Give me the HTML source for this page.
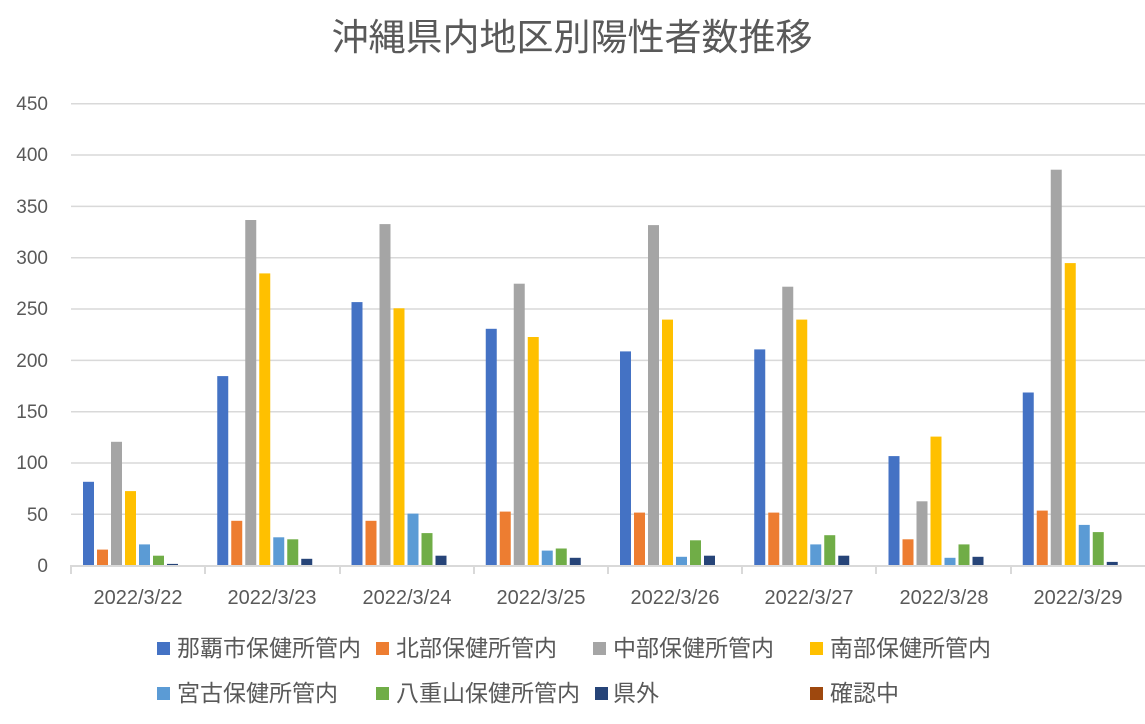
<!DOCTYPE html>
<html><head><meta charset="utf-8"><style>
html,body{margin:0;padding:0;background:#fff;}
svg{display:block;font-family:"Liberation Sans","Noto Sans CJK JP",sans-serif;}
</style></head><body>
<svg width="1145" height="724" viewBox="0 0 1145 724" xmlns="http://www.w3.org/2000/svg">
<text x="572" y="50" font-size="37" fill="#595959" text-anchor="middle" font-family="Noto Sans CJK JP, sans-serif">沖縄県内地区別陽性者数推移</text>
<g stroke="#d9d9d9" stroke-width="1.5">
<line x1="71" x2="1145" y1="514.3" y2="514.3"/>
<line x1="71" x2="1145" y1="463" y2="463"/>
<line x1="71" x2="1145" y1="411.7" y2="411.7"/>
<line x1="71" x2="1145" y1="360.4" y2="360.4"/>
<line x1="71" x2="1145" y1="309" y2="309"/>
<line x1="71" x2="1145" y1="257.7" y2="257.7"/>
<line x1="71" x2="1145" y1="206.4" y2="206.4"/>
<line x1="71" x2="1145" y1="155" y2="155"/>
<line x1="71" x2="1145" y1="103.7" y2="103.7"/>
</g>
<g font-size="19" fill="#595959" text-anchor="end">
<text x="48" y="572">0</text><text x="48" y="521">50</text><text x="48" y="469">100</text>
<text x="48" y="418">150</text><text x="48" y="367">200</text><text x="48" y="315">250</text>
<text x="48" y="264">300</text><text x="48" y="213">350</text><text x="48" y="161">400</text>
<text x="48" y="110">450</text>
</g>
<g>
<rect x="83" y="481.8" width="11" height="84.2" fill="#4472c4"/>
<rect x="97" y="549.6" width="11" height="16.4" fill="#ed7d31"/>
<rect x="111" y="441.8" width="11" height="124.2" fill="#a5a5a5"/>
<rect x="125" y="491.1" width="11" height="74.9" fill="#ffc000"/>
<rect x="139" y="544.4" width="11" height="21.6" fill="#5b9bd5"/>
<rect x="153" y="555.7" width="11" height="10.3" fill="#70ad47"/>
<rect x="167" y="563.9" width="11" height="2.1" fill="#264478"/>

<rect x="217.25" y="376.1" width="11" height="189.9" fill="#4472c4"/>
<rect x="231.25" y="520.8" width="11" height="45.2" fill="#ed7d31"/>
<rect x="245.25" y="220" width="11" height="346" fill="#a5a5a5"/>
<rect x="259.25" y="273.4" width="11" height="292.6" fill="#ffc000"/>
<rect x="273.25" y="537.3" width="11" height="28.7" fill="#5b9bd5"/>
<rect x="287.25" y="539.3" width="11" height="26.7" fill="#70ad47"/>
<rect x="301.25" y="558.8" width="11" height="7.2" fill="#264478"/>

<rect x="351.5" y="302.1" width="11" height="263.9" fill="#4472c4"/>
<rect x="365.5" y="520.8" width="11" height="45.2" fill="#ed7d31"/>
<rect x="379.5" y="224.1" width="11" height="341.9" fill="#a5a5a5"/>
<rect x="393.5" y="308.3" width="11" height="257.7" fill="#ffc000"/>
<rect x="407.5" y="513.6" width="11" height="52.4" fill="#5b9bd5"/>
<rect x="421.5" y="533.1" width="11" height="32.9" fill="#70ad47"/>
<rect x="435.5" y="555.7" width="11" height="10.3" fill="#264478"/>

<rect x="485.75" y="328.8" width="11" height="237.2" fill="#4472c4"/>
<rect x="499.75" y="511.6" width="11" height="54.4" fill="#ed7d31"/>
<rect x="513.75" y="283.7" width="11" height="282.3" fill="#a5a5a5"/>
<rect x="527.75" y="337" width="11" height="229" fill="#ffc000"/>
<rect x="541.75" y="550.6" width="11" height="15.4" fill="#5b9bd5"/>
<rect x="555.75" y="548.5" width="11" height="17.5" fill="#70ad47"/>
<rect x="569.75" y="557.8" width="11" height="8.2" fill="#264478"/>

<rect x="620" y="351.4" width="11" height="214.6" fill="#4472c4"/>
<rect x="634" y="512.6" width="11" height="53.4" fill="#ed7d31"/>
<rect x="648" y="225.1" width="11" height="340.9" fill="#a5a5a5"/>
<rect x="662" y="319.6" width="11" height="246.4" fill="#ffc000"/>
<rect x="676" y="556.8" width="11" height="9.2" fill="#5b9bd5"/>
<rect x="690" y="540.3" width="11" height="25.7" fill="#70ad47"/>
<rect x="704" y="555.7" width="11" height="10.3" fill="#264478"/>
<rect x="718" y="565" width="11" height="1.2" fill="#9e480e"/>

<rect x="754.25" y="349.4" width="11" height="216.6" fill="#4472c4"/>
<rect x="768.25" y="512.6" width="11" height="53.4" fill="#ed7d31"/>
<rect x="782.25" y="286.7" width="11" height="279.3" fill="#a5a5a5"/>
<rect x="796.25" y="319.6" width="11" height="246.4" fill="#ffc000"/>
<rect x="810.25" y="544.4" width="11" height="21.6" fill="#5b9bd5"/>
<rect x="824.25" y="535.2" width="11" height="30.8" fill="#70ad47"/>
<rect x="838.25" y="555.7" width="11" height="10.3" fill="#264478"/>

<rect x="888.5" y="456.1" width="11" height="109.9" fill="#4472c4"/>
<rect x="902.5" y="539.3" width="11" height="26.7" fill="#ed7d31"/>
<rect x="916.5" y="501.3" width="11" height="64.7" fill="#a5a5a5"/>
<rect x="930.5" y="436.6" width="11" height="129.4" fill="#ffc000"/>
<rect x="944.5" y="557.8" width="11" height="8.2" fill="#5b9bd5"/>
<rect x="958.5" y="544.4" width="11" height="21.6" fill="#70ad47"/>
<rect x="972.5" y="556.8" width="11" height="9.2" fill="#264478"/>

<rect x="1022.75" y="392.5" width="11" height="173.5" fill="#4472c4"/>
<rect x="1036.75" y="510.6" width="11" height="55.4" fill="#ed7d31"/>
<rect x="1050.75" y="169.7" width="11" height="396.3" fill="#a5a5a5"/>
<rect x="1064.75" y="263.1" width="11" height="302.9" fill="#ffc000"/>
<rect x="1078.75" y="524.9" width="11" height="41.1" fill="#5b9bd5"/>
<rect x="1092.75" y="532.1" width="11" height="33.9" fill="#70ad47"/>
<rect x="1106.75" y="561.9" width="11" height="4.1" fill="#264478"/>
</g>
<g stroke="#d9d9d9" stroke-width="2">
<line x1="70" x2="1145" y1="566" y2="566"/>
<line x1="71" x2="71" y1="566" y2="574"/><line x1="205" x2="205" y1="566" y2="574"/>
<line x1="340" x2="340" y1="566" y2="574"/><line x1="474" x2="474" y1="566" y2="574"/>
<line x1="608" x2="608" y1="566" y2="574"/><line x1="742" x2="742" y1="566" y2="574"/>
<line x1="876" x2="876" y1="566" y2="574"/><line x1="1011" x2="1011" y1="566" y2="574"/>
</g>
<g font-size="20" fill="#595959" text-anchor="middle">
<text x="138" y="604">2022/3/22</text><text x="272" y="604">2022/3/23</text>
<text x="407" y="604">2022/3/24</text><text x="541" y="604">2022/3/25</text>
<text x="675" y="604">2022/3/26</text><text x="809" y="604">2022/3/27</text>
<text x="944" y="604">2022/3/28</text><text x="1078" y="604">2022/3/29</text>
</g>
<g font-size="23" fill="#595959" font-family="Noto Sans CJK JP, sans-serif">
<rect x="157" y="642" width="13" height="13" fill="#4472c4"/><text x="177" y="656">那覇市保健所管内</text>
<rect x="376" y="642" width="13" height="13" fill="#ed7d31"/><text x="396" y="656">北部保健所管内</text>
<rect x="593" y="642" width="13" height="13" fill="#a5a5a5"/><text x="613" y="656">中部保健所管内</text>
<rect x="810" y="642" width="13" height="13" fill="#ffc000"/><text x="830" y="656">南部保健所管内</text>
<rect x="157" y="687" width="13" height="13" fill="#5b9bd5"/><text x="177" y="701">宮古保健所管内</text>
<rect x="376" y="687" width="13" height="13" fill="#70ad47"/><text x="396" y="701">八重山保健所管内</text>
<rect x="595" y="687" width="13" height="13" fill="#264478"/><text x="613" y="701">県外</text>
<rect x="810" y="687" width="13" height="13" fill="#9e480e"/><text x="830" y="701">確認中</text>
</g>
</svg>
</body></html>
